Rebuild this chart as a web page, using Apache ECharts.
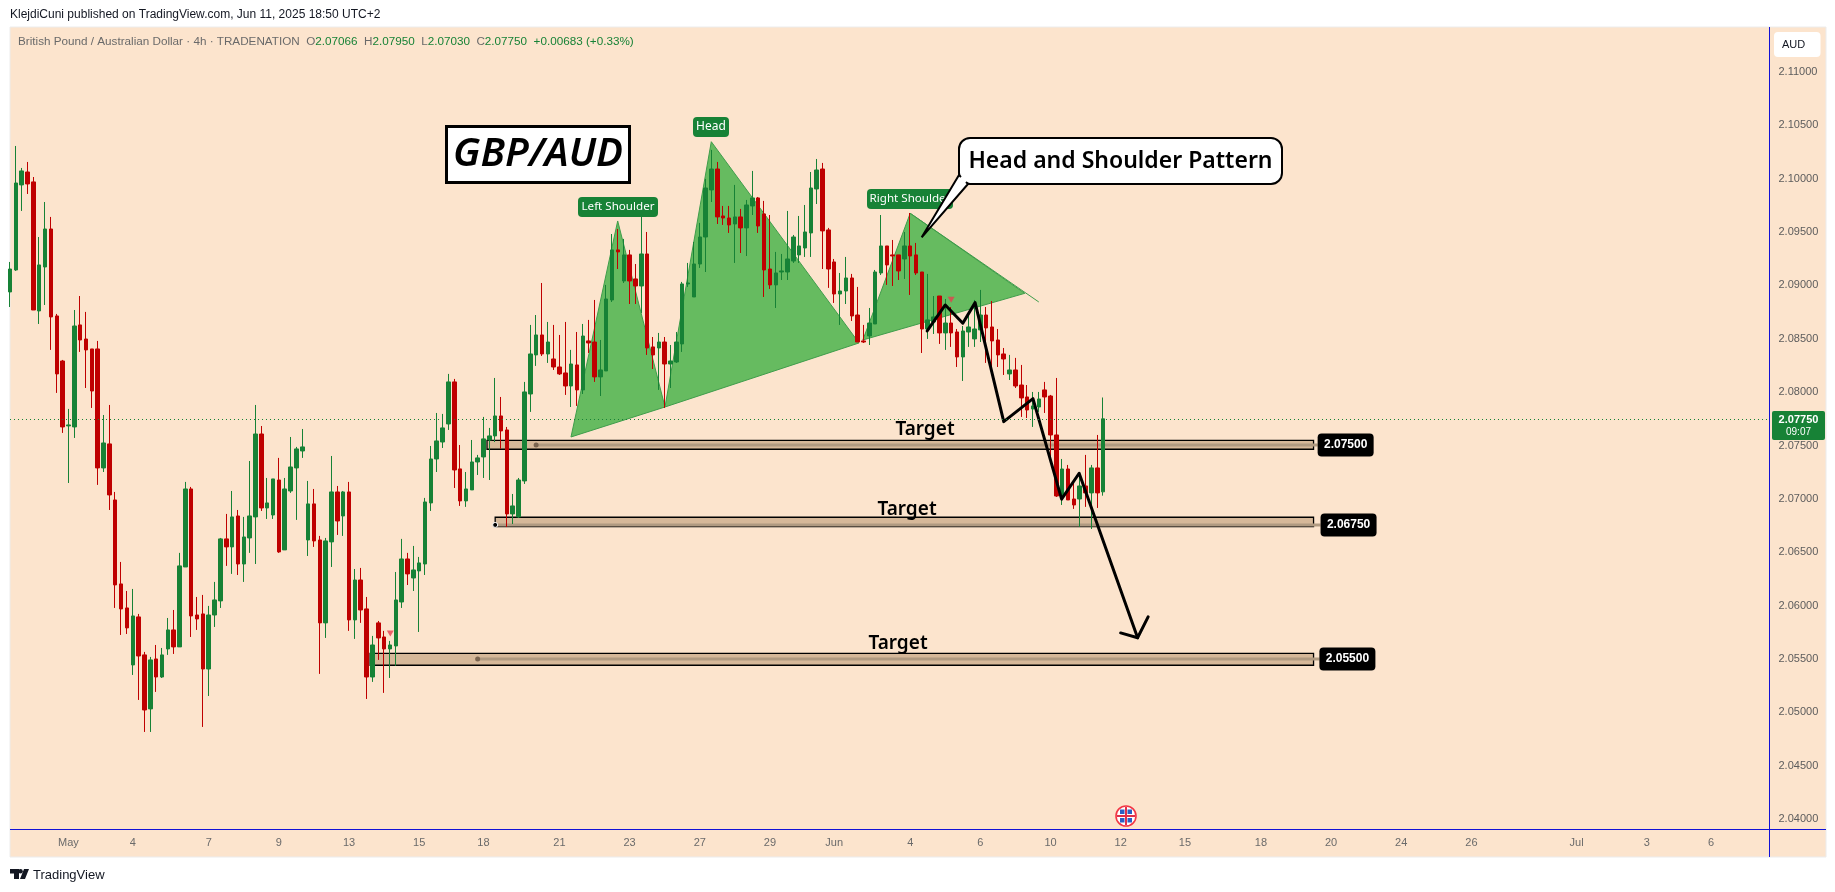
<!DOCTYPE html>
<html><head><meta charset="utf-8">
<style>html,body{margin:0;padding:0;background:#fff}#c{width:1835px;height:892px}</style>
<script src="https://cdn.jsdelivr.net/npm/echarts@6/dist/echarts.min.js"></script>
</head><body><div id="c"></div>
<script>
const opens=[2.08939,2.09145,2.09942,2.10063,2.09970,2.08761,2.09173,2.09529,2.08714,2.08292,2.07684,2.07674,2.08630,2.08498,2.08405,2.08405,2.07290,2.07515,2.06990,2.06203,2.05978,2.05444,2.05894,2.05538,2.05032,2.05500,2.05331,2.05594,2.05772,2.05613,2.06362,2.07093,2.05912,2.05922,2.05406,2.05912,2.06044,2.06625,2.06550,2.06840,2.06390,2.06634,2.06831,2.07608,2.06915,2.06849,2.07177,2.06522,2.07074,2.07290,2.07449,2.06615,2.06953,2.06615,2.05838,2.06597,2.07065,2.06840,2.07065,2.05866,2.06240,2.05969,2.05331,2.05838,2.05706,2.05594,2.05622,2.06034,2.06437,2.06259,2.06325,2.06390,2.06962,2.07374,2.07533,2.07702,2.08096,2.07281,2.06981,2.07084,2.07346,2.07393,2.07552,2.07590,2.07777,2.07646,2.06859,2.06831,2.07168,2.07983,2.08349,2.08536,2.08358,2.08311,2.08236,2.08180,2.08058,2.08255,2.08021,2.08480,2.08470,2.08143,2.08199,2.08864,2.09333,2.09042,2.09286,2.09061,2.08995,2.09295,2.08424,2.08414,2.08470,2.08264,2.08283,2.08452,2.09014,2.08892,2.09201,2.09454,2.09895,2.10091,2.09651,2.09632,2.09576,2.09642,2.09539,2.09745,2.09820,2.09670,2.09154,2.09005,2.09126,2.09126,2.09229,2.09286,2.09351,2.09492,2.09904,2.10091,2.09520,2.09220,2.08920,2.08948,2.09070,2.08723,2.08480,2.08527,2.08639,2.09117,2.09370,2.09286,2.09286,2.09248,2.09370,2.09286,2.09126,2.08592,2.08658,2.08901,2.08555,2.08648,2.08564,2.08330,2.08564,2.08499,2.08583,2.08723,2.08611,2.08489,2.08358,2.08171,2.08208,2.08067,2.07955,2.07843,2.07861,2.08021,2.07964,2.07599,2.07027,2.07280,2.06999,2.06999,2.07121,2.07056,2.07290,2.07066];
const highs=[2.09220,2.10307,2.10101,2.10157,2.10016,2.09454,2.09782,2.09642,2.08733,2.08302,2.07843,2.08770,2.08901,2.08752,2.08405,2.08480,2.07786,2.07880,2.07065,2.06409,2.06137,2.06156,2.05922,2.05566,2.05519,2.05631,2.05603,2.05884,2.05959,2.06494,2.07159,2.07112,2.06081,2.06100,2.05997,2.06222,2.06634,2.06859,2.07074,2.06896,2.06831,2.07355,2.07880,2.07683,2.07196,2.07187,2.07384,2.07196,2.07580,2.07487,2.07655,2.07168,2.07093,2.06653,2.06634,2.07402,2.07121,2.07074,2.07159,2.06343,2.06353,2.06081,2.05716,2.05856,2.05763,2.05669,2.06315,2.06625,2.06494,2.06559,2.06456,2.07009,2.07496,2.07805,2.07796,2.08171,2.08124,2.07505,2.07252,2.07552,2.07412,2.07768,2.07665,2.08133,2.07955,2.07674,2.07046,2.07196,2.08096,2.08630,2.08723,2.09023,2.08658,2.08630,2.08536,2.08658,2.08396,2.08564,2.08639,2.08677,2.08864,2.08489,2.09005,2.09482,2.09529,2.09436,2.09333,2.09201,2.09642,2.09501,2.08517,2.08555,2.08517,2.08442,2.08564,2.09033,2.09211,2.09407,2.09586,2.09998,2.10270,2.10157,2.09745,2.09745,2.09942,2.09717,2.09801,2.10073,2.09829,2.09792,2.09660,2.09314,2.09295,2.09698,2.09473,2.09651,2.09754,2.10063,2.10185,2.10148,2.09539,2.09248,2.09117,2.09267,2.09108,2.08986,2.08630,2.08789,2.09145,2.09660,2.09370,2.09426,2.09286,2.09501,2.09679,2.09398,2.09126,2.09108,2.08901,2.08901,2.08873,2.08798,2.08592,2.08620,2.08723,2.08864,2.08958,2.08798,2.08854,2.08592,2.08414,2.08349,2.08321,2.08255,2.08067,2.08002,2.08002,2.08096,2.07974,2.08133,2.07374,2.07318,2.07149,2.07205,2.07412,2.07318,2.07599,2.07950];
const lows=[2.08798,2.09136,2.09698,2.09857,2.08770,2.08639,2.08817,2.08396,2.07993,2.07618,2.07149,2.07571,2.08377,2.08039,2.07852,2.07131,2.07252,2.06896,2.05978,2.05725,2.05734,2.05350,2.05116,2.04816,2.04816,2.05191,2.05322,2.05538,2.05547,2.05613,2.06362,2.05706,2.05772,2.04863,2.05153,2.05800,2.05978,2.06372,2.06297,2.06287,2.06222,2.06494,2.06390,2.06887,2.06812,2.06812,2.06494,2.06522,2.07056,2.06803,2.07384,2.06465,2.06550,2.05360,2.05697,2.06362,2.06662,2.06653,2.05763,2.05688,2.05838,2.05125,2.05285,2.05491,2.05182,2.05322,2.05435,2.05978,2.06193,2.06137,2.05753,2.06287,2.06887,2.07252,2.07477,2.07646,2.07102,2.06934,2.06925,2.07084,2.07224,2.07196,2.07177,2.07533,2.07468,2.06737,2.06765,2.06821,2.07140,2.07815,2.08246,2.08339,2.08274,2.08208,2.08161,2.07974,2.07861,2.07871,2.07983,2.08367,2.08096,2.07964,2.08199,2.08845,2.09154,2.09023,2.08826,2.08826,2.08742,2.08349,2.08217,2.08021,2.07852,2.08039,2.08274,2.08377,2.08986,2.08892,2.09164,2.09126,2.09782,2.09576,2.09567,2.09492,2.09211,2.09304,2.09276,2.09660,2.09492,2.08892,2.08967,2.08789,2.09051,2.09051,2.09211,2.09211,2.09267,2.09267,2.09763,2.09154,2.08977,2.08836,2.08630,2.08826,2.08667,2.08470,2.08461,2.08442,2.08639,2.09098,2.09005,2.08995,2.09051,2.09061,2.08911,2.09098,2.08367,2.08499,2.08545,2.08452,2.08396,2.08424,2.08236,2.08105,2.08424,2.08424,2.08470,2.08274,2.08217,2.08236,2.08161,2.08114,2.08039,2.07768,2.07758,2.07674,2.07815,2.07805,2.07384,2.07018,2.06943,2.06990,2.06906,2.06737,2.06925,2.06718,2.06915,2.07030];
const closes=[2.09154,2.09960,2.10073,2.09951,2.08770,2.09192,2.09529,2.08705,2.08171,2.07674,2.07693,2.08620,2.08489,2.08396,2.08011,2.07290,2.07524,2.07037,2.06194,2.05969,2.05791,2.05903,2.05528,2.05022,2.05491,2.05331,2.05538,2.05772,2.05613,2.06372,2.07093,2.05903,2.05875,2.05406,2.05912,2.06053,2.06625,2.06550,2.06831,2.06390,2.06643,2.06840,2.07608,2.06915,2.06962,2.07187,2.06503,2.07093,2.07299,2.07468,2.07487,2.06953,2.06606,2.05838,2.06606,2.07065,2.06793,2.07065,2.05866,2.06240,2.05959,2.05331,2.05631,2.05697,2.05594,2.05631,2.06053,2.06437,2.06297,2.06334,2.06400,2.06971,2.07374,2.07543,2.07665,2.08096,2.07271,2.06981,2.07093,2.07346,2.07384,2.07562,2.07590,2.07777,2.07637,2.06859,2.06934,2.07177,2.08002,2.08358,2.08536,2.08358,2.08470,2.08236,2.08171,2.08058,2.08264,2.08021,2.08526,2.08461,2.08143,2.08208,2.08873,2.09333,2.09314,2.09286,2.09042,2.08995,2.09295,2.08414,2.08349,2.08470,2.08264,2.08292,2.08470,2.09014,2.09023,2.09201,2.09454,2.09913,2.10091,2.09642,2.09632,2.09567,2.09642,2.09539,2.09754,2.09820,2.09557,2.09145,2.09005,2.09117,2.09136,2.09248,2.09454,2.09370,2.09501,2.09913,2.10082,2.09511,2.09154,2.08920,2.08948,2.09070,2.08714,2.08470,2.08470,2.08648,2.09126,2.09370,2.09192,2.09276,2.09136,2.09370,2.09276,2.09117,2.08592,2.08677,2.08705,2.08555,2.08648,2.08555,2.08330,2.08573,2.08611,2.08592,2.08723,2.08602,2.08480,2.08349,2.08311,2.08208,2.08058,2.07946,2.07833,2.07871,2.07936,2.07955,2.07599,2.07027,2.07280,2.06990,2.06943,2.07121,2.07056,2.07290,2.07056,2.07750];

const priceTicks=[2.04,2.045,2.05,2.055,2.06,2.065,2.07,2.075,2.08,2.085,2.09,2.095,2.10,2.105,2.11];
const timeIndexes=[10,21,34,46,58,70,81,94,106,118,130,141,154,166,178,190,201,214,226,238,250,268,280,291];
const timeLabels=['May','4','7','9','13','15','18','21','23','27','29','Jun','4','6','10','12','15','18','20','24','26','Jul','3','6'];
const lastPrice=2.0775;
const slotCount=302;

// Head and shoulders drawing: [bar index, price]
const leftShoulder=[[95.97,2.07580],[103.96,2.09604],[112.05,2.07861]];
const headShape=[[112.05,2.07861],[119.97,2.10347],[145.24,2.08461]];
const rightShoulder=[[145.9,2.08489],[154.0,2.09676],[173.6,2.08926]];
const shoulderTail=[[154.0,2.09676],[176.0,2.08845]];
// Hand drawn path
const projection=[[156.9,2.08574],[160,2.08817],[163,2.08646],[165.1,2.08839],[170,2.07724],[175,2.07939],[179.9,2.06997],[182.9,2.07240],[192.9,2.05699]];
const arrowHead=[[190,2.05744],[192.9,2.05699],[194.7,2.05894]];
const signals=[[65.06,2.05739],[161.0,2.08867]];
// Target zones
const zoneLevels=[2.075,2.0675,2.055];
const zoneTops=[2.07549,2.06828,2.05553];
const zoneBottoms=[2.07465,2.06740,2.05441];
const zoneMids=[2.07505,2.06756,2.05500];
const zoneStarts=[81.6,83.0,61.6];
const zoneHandles=[90.0,83.0,80.0];
const zoneEnd=223.0;
const chipStart=[223.7,224.2,224.0];

const GREEN='#178236',RED='#bf0000',BG='#fce4cd',BLUE='#1111d6',FONT='"Liberation Sans",Arial,sans-serif',TV='"Noto Sans",sans-serif';
const candles=opens.map((o,i)=>[o,closes[i],lows[i],highs[i]]);

function poly(list){return {type:'custom',xAxisIndex:1,yAxisIndex:0,z:1,silent:true,clip:true,
  data:list.map(t=>t[0]),encode:{x:0,y:1},
  renderItem:(p,api)=>({type:'polygon',shape:{points:list[p.dataIndex].map(q=>api.coord(q))},
    style:{fill:'#66bb60',stroke:'#3f9d4b',lineWidth:1}})};}

const option={
  animation:false,backgroundColor:'#fff',
  grid:{left:10,width:1759.5,top:18.64,height:853.76,containLabel:false},
  xAxis:[
    {type:'category',data:Array.from({length:slotCount},(_,i)=>'b'+i),boundaryGap:false,offset:-43.4,
     axisLine:{show:false},axisTick:{show:false},splitLine:{show:false},
     axisLabel:{interval:0,margin:8,fontFamily:FONT,fontSize:11,color:'#6a6a6a',
       formatter:(v,i)=>{const k=timeIndexes.indexOf(i);return k<0?'':timeLabels[k];}}},
    {type:'value',min:0,max:slotCount-1,show:false}
  ],
  yAxis:{type:'value',position:'right',min:2.035,max:2.115,interval:0.005,scale:true,
     axisLine:{show:false},axisTick:{show:false},splitLine:{show:false},
     axisLabel:{margin:9,fontFamily:FONT,fontSize:11,color:'#5c5c5c',showMinLabel:false,showMaxLabel:false,
       formatter:v=>priceTicks.some(t=>Math.abs(t-v)<1e-6)?v.toFixed(5):''}},
  series:[
    poly([leftShoulder,headShape,rightShoulder]),
    {type:'line',xAxisIndex:1,data:shoulderTail,showSymbol:false,silent:true,z:1,lineStyle:{color:'#3f9d4b',width:1}},
    {type:'custom',xAxisIndex:1,yAxisIndex:0,z:1,silent:true,
      data:zoneLevels.map((l,i)=>[zoneStarts[i],l]),encode:{x:0,y:1},
      renderItem:(p,api)=>{const i=p.dataIndex;
        const a=api.coord([zoneStarts[i],zoneTops[i]]),b=api.coord([zoneEnd,zoneBottoms[i]]);
        const m1=api.coord([zoneHandles[i],zoneMids[i]]),m2=api.coord([chipStart[i],zoneMids[i]]);
        return {type:'group',children:[
          {type:'rect',shape:{x:a[0],y:a[1],width:b[0]-a[0],height:b[1]-a[1]},style:{fill:'#d6b899',stroke:'#000',lineWidth:1.3}},
          {type:'line',shape:{x1:m1[0],y1:m1[1],x2:m2[0],y2:m2[1]},style:{stroke:'#b09a81',lineWidth:3}},
          {type:'circle',shape:{cx:m1[0],cy:m1[1],r:2.5},style:{fill:i==1?'#000':'#7a6450',stroke:i==1?'#fff':null,lineWidth:1}}
        ]};}},
    {type:'candlestick',name:'GBP/AUD',data:candles,barWidth:4,clip:true,z:2,
      itemStyle:{color:GREEN,color0:RED,borderColor:GREEN,borderColor0:RED,borderWidth:1},
      markLine:{silent:true,symbol:'none',animation:false,precision:5,data:[{yAxis:lastPrice}],label:{show:false},
        lineStyle:{color:GREEN,type:[1,3],width:1}}},
    {type:'line',xAxisIndex:1,data:projection,showSymbol:false,silent:true,z:3,lineStyle:{color:'#000',width:3,join:'round',cap:'round'}},
    {type:'line',xAxisIndex:1,data:arrowHead,showSymbol:false,silent:true,z:3,lineStyle:{color:'#000',width:3,join:'round',cap:'round'}},
    {type:'scatter',xAxisIndex:1,data:signals,symbol:'triangle',symbolRotate:180,symbolSize:[7,6],silent:true,z:3,itemStyle:{color:'#e5404f'}},
    {type:'custom',xAxisIndex:1,yAxisIndex:0,z:4,silent:true,
      data:zoneLevels.map((l,i)=>[chipStart[i],l]),encode:{x:0,y:1},
      renderItem:(p,api)=>{const i=p.dataIndex,c=api.coord([chipStart[i],zoneMids[i]]);
        return {type:'group',children:[
          {type:'rect',shape:{x:c[0],y:c[1]-11.5,width:56,height:23,r:4},style:{fill:'#000'}},
          {type:'text',style:{x:c[0]+28,y:c[1],text:zoneLevels[i].toFixed(5),fill:'#fff',font:'bold 12px '+FONT,textAlign:'center',textVerticalAlign:'middle'}}
        ]};}}
  ],
  graphic:{elements:[
    {type:'rect',z:-10,silent:true,shape:{x:10,y:27,width:1816,height:830},style:{fill:BG,stroke:'#ececec',lineWidth:1}},
    {type:'line',z:60,silent:true,shape:{x1:10,y1:829.5,x2:1826,y2:829.5},style:{stroke:BLUE,lineWidth:1}},
    {type:'line',z:60,silent:true,shape:{x1:1769.5,y1:27,x2:1769.5,y2:857},style:{stroke:BLUE,lineWidth:1}},
    {type:'text',z:60,style:{x:10,y:15,text:'KlejdiCuni published on TradingView.com, Jun 11, 2025 18:50 UTC+2',font:'12px '+FONT,fill:'#131722',textVerticalAlign:'middle'}},
    {type:'text',z:60,style:{x:18,y:41.5,text:'{g|British Pound / Australian Dollar · 4h · TRADENATION}{g|  O}{v|2.07066}{g|  H}{v|2.07950}{g|  L}{v|2.07030}{g|  C}{v|2.07750}{v|  +0.00683 (+0.33%)}',
       rich:{g:{fill:'#6a6a6a',font:'11.7px '+FONT},v:{fill:'#178236',font:'11.7px '+FONT}},textVerticalAlign:'middle'}},
    {type:'rect',z:60,shape:{x:1774,y:32,width:46.5,height:25,r:4},style:{fill:'#fff'}},
    {type:'text',z:61,style:{x:1782,y:44.5,text:'AUD',font:'11px '+FONT,fill:'#131722',textVerticalAlign:'middle'}},
    {type:'rect',z:60,shape:{x:1772,y:411,width:53,height:29,r:2},style:{fill:GREEN}},
    {type:'text',z:61,style:{x:1798.5,y:420,text:'2.07750',font:'bold 11px '+FONT,fill:'#fff',textAlign:'center',textVerticalAlign:'middle'}},
    {type:'text',z:61,style:{x:1798.5,y:432,text:'09:07',font:'10px '+FONT,fill:'#fff',textAlign:'center',textVerticalAlign:'middle'}},
    // title box
    {type:'rect',z:50,shape:{x:446.5,y:126.5,width:183,height:56},style:{fill:'#fff',stroke:'#000',lineWidth:3}},
    {type:'text',z:51,style:{x:538,y:155,text:'GBP/AUD',font:'italic 600 40px "Noto Sans",sans-serif',fill:'#000',textAlign:'center',textVerticalAlign:'middle'}},
    // pattern labels
    {type:'rect',z:50,shape:{x:693,y:117,width:36,height:20,r:4},style:{fill:GREEN}},
    {type:'text',z:51,style:{x:711,y:127,text:'Head',font:'12px '+TV,fill:'#fff',textAlign:'center',textVerticalAlign:'middle'}},
    {type:'rect',z:50,shape:{x:578,y:197,width:80,height:20,r:4},style:{fill:GREEN}},
    {type:'text',z:51,style:{x:618,y:207,text:'Left Shoulder',font:'11.6px '+TV,fill:'#fff',textAlign:'center',textVerticalAlign:'middle'}},
    {type:'rect',z:50,shape:{x:867,y:189,width:86,height:20,r:4},style:{fill:GREEN}},
    {type:'text',z:51,style:{x:910,y:199,text:'Right Shoulder',font:'11.6px '+TV,fill:'#fff',textAlign:'center',textVerticalAlign:'middle'}},
    // callout
    {type:'rect',z:52,shape:{x:959,y:138,width:323,height:46,r:11},style:{fill:'#fff',stroke:'#000',lineWidth:2}},
    {type:'polygon',z:53,shape:{points:[[959,175],[921.7,237.3],[968,184]]},style:{fill:'#fff',stroke:'#000',lineWidth:2}},
    {type:'line',z:54,shape:{x1:961,y1:177,x2:966,y2:182},style:{stroke:'#fff',lineWidth:4}},
    {type:'text',z:55,style:{x:1120.5,y:161,text:'Head and Shoulder Pattern',font:'600 23px '+TV,fill:'#000',textAlign:'center',textVerticalAlign:'middle'}},
    // target captions
    {type:'text',z:51,style:{x:925,y:430,text:'Target',font:'600 19px '+TV,fill:'#000',textAlign:'center',textVerticalAlign:'middle'}},
    {type:'text',z:51,style:{x:907,y:510,text:'Target',font:'600 19px '+TV,fill:'#000',textAlign:'center',textVerticalAlign:'middle'}},
    {type:'text',z:51,style:{x:898,y:644,text:'Target',font:'600 19px '+TV,fill:'#000',textAlign:'center',textVerticalAlign:'middle'}},
    // UK flag event
    {type:'group',z:55,x:1126,y:816,children:[
      {type:'circle',z:55,shape:{r:10},style:{fill:'#fff',stroke:'#f23645',lineWidth:1.6}},
      {type:'rect',z:56,shape:{x:-6,y:-6.5,width:4.5,height:4.5},style:{fill:'#2a5fc4'}},
      {type:'rect',z:56,shape:{x:1.5,y:-6.5,width:4.5,height:4.5},style:{fill:'#2a5fc4'}},
      {type:'rect',z:56,shape:{x:-6,y:2,width:4.5,height:4.5},style:{fill:'#2a5fc4'}},
      {type:'rect',z:56,shape:{x:1.5,y:2,width:4.5,height:4.5},style:{fill:'#2a5fc4'}},
      {type:'rect',z:57,shape:{x:-9,y:-1,width:18,height:2},style:{fill:'#e0304a'}},
      {type:'rect',z:57,shape:{x:-1,y:-9,width:2,height:18},style:{fill:'#e0304a'}}
    ]},
    // TradingView mark
    {type:'polygon',z:60,shape:{points:[[10,869],[19,869],[19,879],[14,879],[14,873.5],[10,873.5]]},style:{fill:'#131722'}},
    {type:'circle',z:60,shape:{cx:20.5,cy:871.3,r:2.3},style:{fill:'#131722'}},
    {type:'polygon',z:60,shape:{points:[[24,869],[29,869],[25,879],[20,879]]},style:{fill:'#131722'}},
    {type:'text',z:60,style:{x:33,y:875,text:'TradingView',font:'13px '+FONT,fill:'#131722',textVerticalAlign:'middle'}}
  ]}
};
const chart=echarts.init(document.getElementById('c'),null,{width:1835,height:892});
chart.setOption(option);
</script></body></html>
